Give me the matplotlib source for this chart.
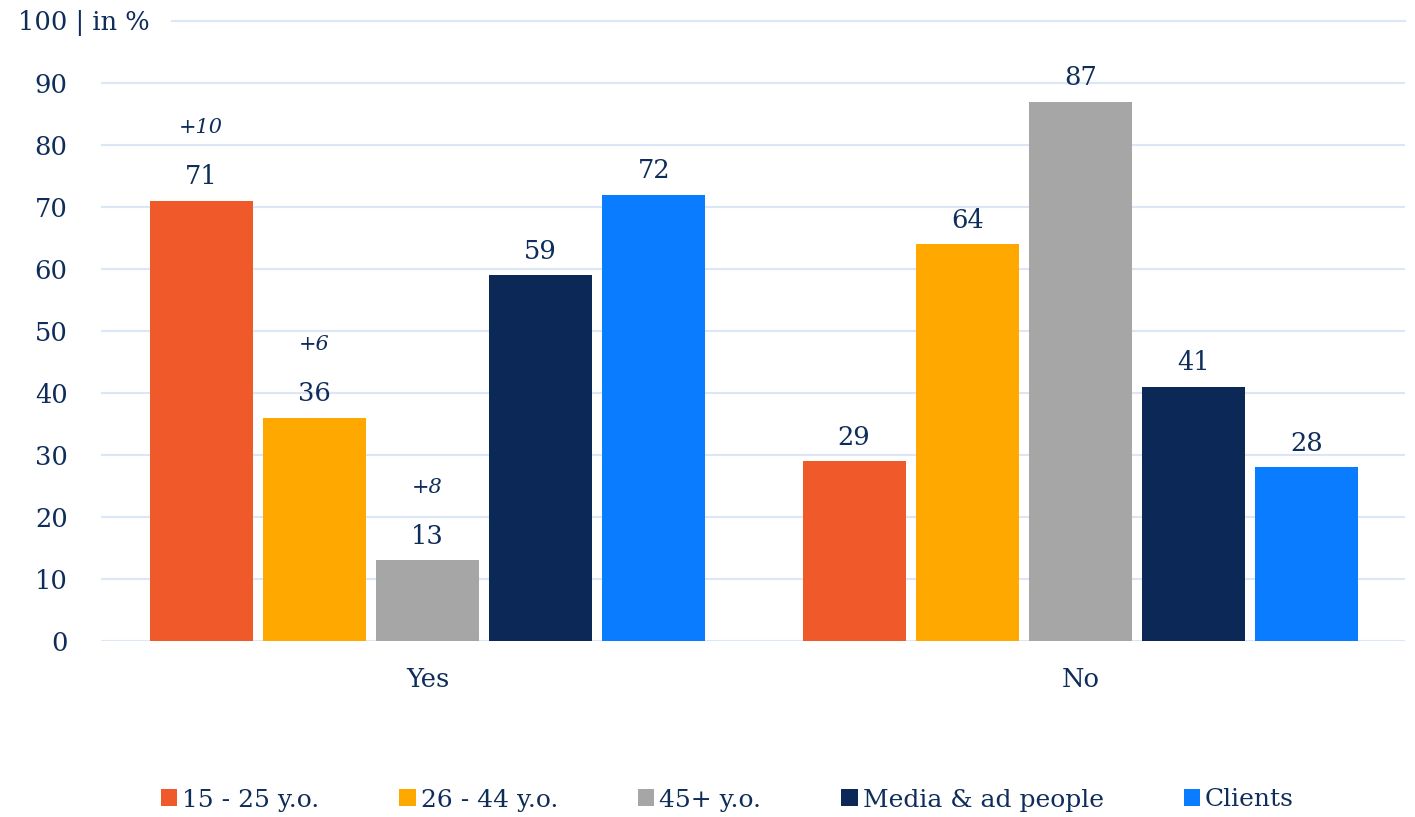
import matplotlib.pyplot as plt
import numpy as np

categories = ["Yes", "No"]
series = ["15 - 25 y.o.", "26 - 44 y.o.", "45+ y.o.", "Media & ad people", "Clients"]
values = {
    "15 - 25 y.o.": [71, 29],
    "26 - 44 y.o.": [36, 64],
    "45+ y.o.": [13, 87],
    "Media & ad people": [59, 41],
    "Clients": [72, 28],
}
# change annotations on the "Yes" group
deltas = {"15 - 25 y.o.": "+10", "26 - 44 y.o.": "+6", "45+ y.o.": "+8"}
colors = ["#f05a2b", "#ffa800", "#a6a6a6", "#0c2856", "#0a7cff"]
yticks = [0, 10, 20, 30, 40, 50, 60, 70, 80, 90, 100]

txt = "#0f2d5a"
grid = "#dbe6f6"
plt.rcParams['font.family'] = ['DejaVu Serif']

fig = plt.figure(figsize=(14.15, 8.17), dpi=100)
ax = fig.add_axes([101/1415, (817-641)/817, 1304/1415, 620/817])
ax.set_xlim(-0.5, 1.497)
ax.set_ylim(0, 100)

for y in yticks:
    if y == 100:
        ax.axhline(y, xmin=(172-101)/1304, color=grid, lw=1.5, zorder=0, clip_on=False)
    else:
        ax.axhline(y, color=grid, lw=1.5, zorder=0)

step = 0.1733
width = 0.158
x = np.arange(len(categories))
for i, (s, c) in enumerate(zip(series, colors)):
    xs = x + (i - 2) * step
    ax.bar(xs, values[s], width=width, color=c, label=s, zorder=2)
    for xi, v in zip(xs, values[s]):
        ax.annotate(str(v), (xi, v), xytext=(0, 24), textcoords="offset pixels",
                    ha="center", va="center", fontsize=18.5, color=txt)
    if s in deltas:
        v = values[s][0]
        ax.annotate(deltas[s], (xs[0], v), xytext=(0, 73), textcoords="offset pixels",
                    ha="center", va="center", fontsize=15, style="italic", color=txt)

ax.set_yticks(yticks)
ax.set_yticklabels([str(t) if t != 100 else "" for t in yticks], fontsize=18.5, color=txt)
fig.text(18/1415, (817-23)/817, "100 | in %", ha="left", va="center",
         fontsize=18.5, color=txt)
ax.set_xticks(x)
ax.set_xticklabels(categories, fontsize=18.5, color=txt)
ax.tick_params(length=0, pad=24, axis="y")
ax.tick_params(length=0, pad=19, axis="x")
for sp in ax.spines.values():
    sp.set_visible(False)

fig.legend(loc="center", bbox_to_anchor=(0.514, (817-800)/817), ncol=5, frameon=False,
           fontsize=18, handlelength=0.65, handleheight=0.65, handletextpad=0.2,
           columnspacing=3.2, labelcolor=txt)

fig.savefig("out.png", dpi=100, facecolor="white")
